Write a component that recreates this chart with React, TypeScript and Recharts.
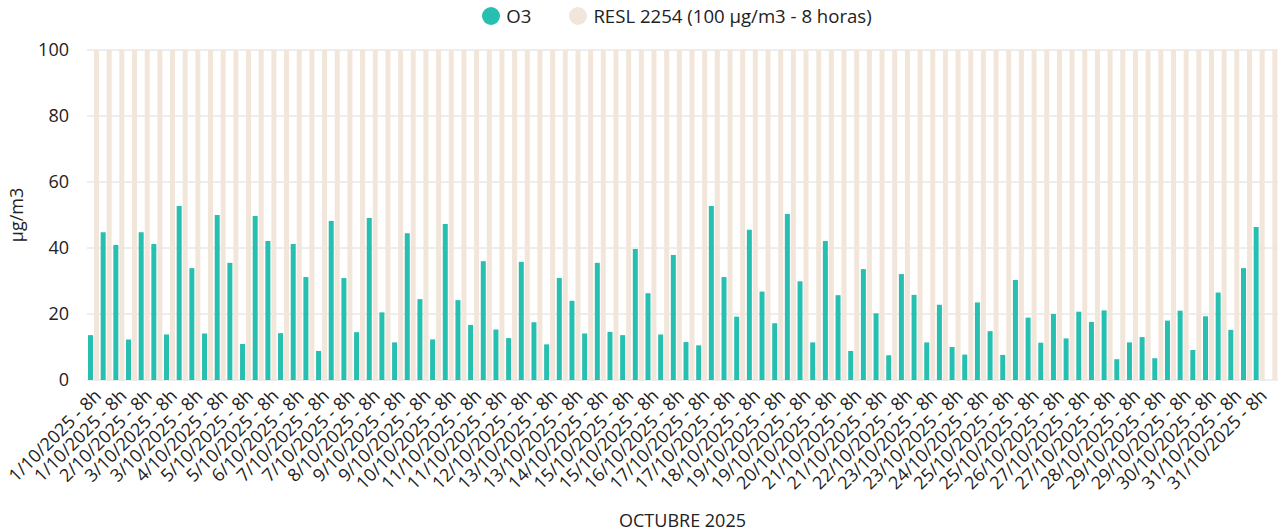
import React from 'react';
import { BarChart, Bar, XAxis, YAxis, CartesianGrid, Legend } from 'recharts';

// Ozono, medias de 8 horas, octubre 2025 (3 periodos por día)
const periodCount = 94;
const periodLabels: string[] = Array.from(
  { length: periodCount },
  (_, i) => `${Math.min(31, Math.floor(i / 3) + 1)}/10/2025 - 8h`
);

const o3Values: number[] = [
  13.6, 44.8, 40.9, 12.3, 44.8, 41.2, 13.8, 52.7, 33.9, 14.1,
  50.0, 35.5, 10.9, 49.7, 42.1, 14.2, 41.2, 31.2, 8.8, 48.2,
  30.9, 14.5, 49.1, 20.5, 11.4, 44.5, 24.5, 12.3, 47.3, 24.2,
  16.7, 36.0, 15.3, 12.7, 35.8, 17.5, 10.8, 30.9, 24.0, 14.1,
  35.5, 14.6, 13.6, 39.7, 26.3, 13.8, 37.9, 11.5, 10.5, 52.7,
  31.2, 19.2, 45.5, 26.8, 17.2, 50.3, 29.9, 11.4, 42.1, 25.7,
  8.8, 33.6, 20.2, 7.5, 32.1, 25.8, 11.4, 22.8, 10.0, 7.7,
  23.5, 14.8, 7.6, 30.3, 18.9, 11.3, 20.0, 12.6, 20.7, 17.6,
  21.1, 6.3, 11.4, 13.0, 6.6, 18.0, 21.0, 9.1, 19.3, 26.5,
  15.2, 33.9, 46.4, 0,
];

const limitValue = 100;
const yTicks = [0, 20, 40, 60, 80, 100];

const O3_COLOR = '#26BFB0';
const LIMIT_COLOR = '#F2E6DA';
const FONT = '"Open Sans", "Noto Sans", sans-serif';
const TEXT = '#222';

const data = periodLabels.map((label, i) => ({
  period: label,
  o3: o3Values[i],
  resl: limitValue,
}));

const legendItems = [
  { name: 'O3', color: O3_COLOR },
  { name: 'RESL 2254 (100 µg/m3 - 8 horas)', color: LIMIT_COLOR },
];

const CustomLegend = () => (
  <div
    style={{
      display: 'flex',
      justifyContent: 'center',
      alignItems: 'flex-start',
      gap: 38,
      fontFamily: FONT,
      fontSize: 18.6,
      color: TEXT,
      height: 50,
      paddingTop: 4,
      paddingLeft: 76,
      boxSizing: 'border-box',
    }}
  >
    {legendItems.map((item) => (
      <div key={item.name} style={{ display: 'flex', alignItems: 'center', gap: 6, lineHeight: '24px' }}>
        <span
          style={{
            width: 18,
            height: 18,
            borderRadius: '50%',
            background: item.color,
            display: 'inline-block',
          }}
        />
        <span>{item.name}</span>
      </div>
    ))}
  </div>
);

const YLabel = ({ viewBox }: any) => {
  const cx = viewBox.x + 18;
  const cy = viewBox.y + viewBox.height / 2;
  return (
    <text
      x={cx}
      y={cy}
      transform={`rotate(-90 ${cx} ${cy})`}
      textAnchor="middle"
      dominantBaseline="middle"
      fontFamily={FONT}
      fontSize={18}
      fill={TEXT}
    >
      µg/m3
    </text>
  );
};

const App: React.FC = () => {
  return (
    <div style={{ position: 'absolute', left: 0, top: 0, width: 1279, height: 531, background: '#fff' }}>
      <BarChart
        width={1279}
        height={531}
        data={data}
        margin={{ top: 0, right: 1, left: 0, bottom: 0 }}
        barCategoryGap={1}
        barGap={1}
      >
        <CartesianGrid vertical={false} stroke="#dcdcdc" />
        <XAxis
          dataKey="period"
          interval={1}
          angle={-45}
          textAnchor="end"
          height={151}
          tickLine={false}
          axisLine={false}
          tick={{ fontFamily: FONT, fontSize: 18, fill: TEXT }}
          label={{
            value: 'OCTUBRE 2025',
            position: 'insideBottom',
            offset: 4,
            style: { fontFamily: FONT, fontSize: 18, fill: TEXT },
          }}
        />
        <YAxis
          width={87}
          domain={[0, 100]}
          ticks={yTicks}
          tickLine={false}
          axisLine={false}
          tickMargin={12}
          tick={{ fontFamily: FONT, fontSize: 18, fill: TEXT }}
          label={<YLabel />}
        />
        <Legend verticalAlign="top" content={<CustomLegend />} />
        <Bar dataKey="o3" name="O3" fill={O3_COLOR} isAnimationActive={false} />
        <Bar dataKey="resl" name="RESL 2254 (100 µg/m3 - 8 horas)" fill={LIMIT_COLOR} isAnimationActive={false} />
      </BarChart>
    </div>
  );
};

export default App;
